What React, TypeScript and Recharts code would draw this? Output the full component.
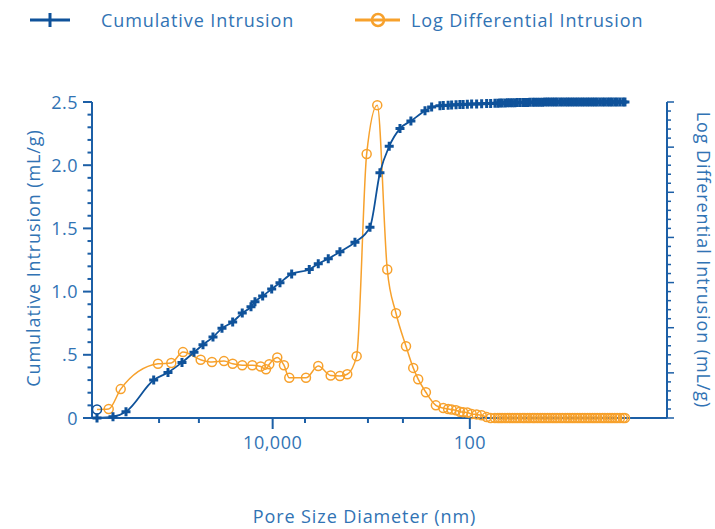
import React from "react";
import { LineChart, Line, XAxis, YAxis } from "recharts";

const BLUE = "#0f529a";
const ORANGE = "#f7a12c";
const AXIS = "#1c5fa6";
const TEXT = "#3173b4";
const FONT = "'Open Sans', 'Noto Sans', sans-serif";

// pore diameters (nm) and cumulative intrusion (mL/g)
const cumHeadDiameters = [605000, 416400, 307400, 160960, 115300, 83100, 62800, 50900, 40300, 32660, 25440, 20340, 16590, 15110, 12630, 10230, 8430, 6415, 4253, 3447, 2729, 2077, 1463, 1030, 816, 657, 511, 396, 285, 244, 201];
const cumHeadValues = [0, 0.01, 0.05, 0.3, 0.36, 0.44, 0.52, 0.58, 0.64, 0.71, 0.76, 0.83, 0.88, 0.92, 0.965, 1.02, 1.07, 1.14, 1.175, 1.22, 1.26, 1.315, 1.39, 1.51, 1.94, 2.15, 2.29, 2.35, 2.43, 2.46, 2.47];

// log differential intrusion (right axis units)
const logHeadDiameters = [605000, 460300, 347800, 145600, 106700, 81200, 53720, 41260, 31180, 25440, 20340, 16090, 13230, 11690, 10820, 8980, 7680, 6785, 4593, 3447, 2580, 2077, 1751, 1406, 1113, 869, 688, 561, 444, 375, 334, 279, 221];
const logHeadValues = [0.19, 0.2, 0.64, 1.2, 1.22, 1.46, 1.29, 1.24, 1.26, 1.2, 1.17, 1.17, 1.14, 1.08, 1.19, 1.34, 1.17, 0.89, 0.89, 1.15, 0.94, 0.93, 0.97, 1.37, 5.85, 6.93, 3.29, 2.32, 1.59, 1.11, 0.86, 0.57, 0.28];

// dense small-pore tail shared by both series
const tailDiameters = [186, 166, 153, 138, 126, 117, 106, 95.9, 85.3, 75.9, 67.5, 61.5, 55.6, 52, 49.5, 47, 44, 41.5, 39.2, 37, 34.9, 33, 31, 29, 27.6, 26, 24.6, 23, 21.9, 20.6, 19.4, 18.3, 17.3, 16.3, 15.4, 14.5, 13.7, 13, 12.2, 11.5, 10.8, 10.2, 9.65, 9.1, 8.59, 8.1, 7.64, 7.2, 6.8, 6.4, 6.05, 5.7, 5.39, 5.1, 4.79, 4.5, 4.26, 4, 3.79, 3.6, 3.38, 3.2, 3, 2.8, 2.67];
const tailCumValues = [2.472, 2.474, 2.476, 2.478, 2.48, 2.481, 2.482, 2.484, 2.485, 2.487, 2.488, 2.489, 2.49, 2.491, 2.492, 2.492, 2.493, 2.494, 2.494, 2.495, 2.495, 2.496, 2.496, 2.497, 2.497, 2.497, 2.498, 2.498, 2.498, 2.499, 2.499, 2.499, 2.5, 2.5, 2.5, 2.5, 2.5, 2.5, 2.5, 2.5, 2.5, 2.5, 2.5, 2.5, 2.5, 2.5, 2.5, 2.5, 2.5, 2.5, 2.5, 2.5, 2.5, 2.5, 2.5, 2.5, 2.5, 2.5, 2.5, 2.5, 2.5, 2.5, 2.5, 2.5, 2.5];
const tailLogValues = [0.22, 0.2, 0.19, 0.17, 0.14, 0.13, 0.12, 0.09, 0.08, 0.06, 0.02, 0, 0, 0, 0, 0, 0, 0, 0, 0, 0, 0, 0, 0, 0, 0, 0, 0, 0, 0, 0, 0, 0, 0, 0, 0, 0, 0, 0, 0, 0, 0, 0, 0, 0, 0, 0, 0, 0, 0, 0, 0, 0, 0, 0, 0, 0, 0, 0, 0, 0, 0, 0, 0, 0];

const xTicks = [142000, 56000, 10000, 4700, 1080, 477, 100];
const xTickLabels: Record<number, string> = { 10000: "10,000", 100: "100" };
const leftTicks = [0, 0.1, 0.2, 0.3, 0.4, 0.5, 0.6, 0.7, 0.8, 0.9, 1, 1.1, 1.2, 1.3, 1.4, 1.5, 1.6, 1.7, 1.8, 1.9, 2, 2.1, 2.2, 2.3, 2.4, 2.5];
const leftTickLabels: Record<string, string> = { "0": "0", "0.5": ".5", "1": "1.0", "1.5": "1.5", "2": "2.0", "2.5": "2.5" };
const rightTicks = [0, 0.2, 0.4, 0.6, 0.8, 1, 1.2, 1.4, 1.6, 1.8, 2, 2.2, 2.4, 2.6, 2.8, 3, 3.2, 3.4, 3.6, 3.8, 4, 4.2, 4.4, 4.6, 4.8, 5, 5.2, 5.4, 5.6, 5.8, 6, 6.2, 6.4, 6.6, 6.8, 7];

const cumData = [...cumHeadDiameters, ...tailDiameters].map((d, i) => ({ d, v: [...cumHeadValues, ...tailCumValues][i] }));
const logData = [...logHeadDiameters, ...tailDiameters].map((d, i) => ({ d, v: [...logHeadValues, ...tailLogValues][i] }));

const labelStyle = { fill: TEXT, fontSize: 18, fontFamily: FONT, letterSpacing: 0.9, style: { letterSpacing: "0.9px" } };

const XTick = (props: any) => {
    const { x, y, payload } = props;
    const label = xTickLabels[payload.value];
    return (
        <g>
            <line x1={x} x2={x} y1={y} y2={y + (label ? 11 : 5)} stroke={AXIS} strokeWidth={2} />
            {label && <text x={x} y={y + 31} textAnchor="middle" fill={TEXT} fontSize={18} fontFamily={FONT} style={{ letterSpacing: "0.5px" }}>{label}</text>}
        </g>
    );
};

const LeftTick = (props: any) => {
    const { x, y, payload } = props;
    const label = leftTickLabels[String(payload.value)];
    return (
        <g>
            <line x1={x} x2={x - (label ? 9 : 4.5)} y1={y} y2={y} stroke={AXIS} strokeWidth={2} />
            {label && <text x={x - 14} y={y + 6.5} textAnchor="end" fill={TEXT} fontSize={18} fontFamily={FONT} style={{ letterSpacing: "0.5px" }}>{label}</text>}
        </g>
    );
};

const RightTick = (props: any) => {
    const { x, y, payload } = props;
    const major = Math.abs(payload.value - Math.round(payload.value)) < 1e-6;
    return <line x1={x} x2={x + (major ? 7 : 4)} y1={y} y2={y} stroke={AXIS} strokeWidth={1.5} />;
};

const PlusDot = (props: any) => {
    const { cx, cy, index } = props;
    if (cx == null || cy == null) return <g key={`p${index}`} />;
    return <path key={`p${index}`} d={`M${cx - 4.5},${cy}H${cx + 4.5}M${cx},${cy - 4.5}V${cy + 4.5}`} stroke={BLUE} strokeWidth={3} fill="none" />;
};

const CircleDot = (props: any) => {
    const { cx, cy, index } = props;
    if (cx == null || cy == null) return <g key={`c${index}`} />;
    return <circle key={`c${index}`} cx={cx} cy={cy} r={4.5} stroke={index === 0 ? BLUE : ORANGE} strokeWidth={1.5} fill="none" />;
};

function LegendOverlay() {
    const txt: React.CSSProperties = { position: "absolute", top: 9, fontSize: 18, lineHeight: "22px", color: TEXT, fontFamily: FONT, whiteSpace: "nowrap", letterSpacing: "0.9px" };
    return (
        <>
            <svg style={{ position: "absolute", left: 28, top: 10 }} width={380} height={20}>
                <line x1={2} x2={42} y1={10} y2={10} stroke={BLUE} strokeWidth={3} />
                <line x1={22} x2={22} y1={3} y2={17} stroke={BLUE} strokeWidth={3} />
                <line x1={327} x2={372} y1={10} y2={10} stroke={ORANGE} strokeWidth={3} />
                <circle cx={350} cy={10} r={6} stroke={ORANGE} strokeWidth={2.5} fill="none" />
            </svg>
            <div style={{ ...txt, left: 101 }}>Cumulative Intrusion</div>
            <div style={{ ...txt, left: 411 }}>Log Differential Intrusion</div>
        </>
    );
}

export default function App() {
    return (
        <div style={{ position: "fixed", left: 0, top: 0, width: 715, height: 529, background: "#fff" }}>
            <LineChart width={715} height={529} margin={{ top: 102, right: 0, bottom: 0, left: 0 }}>
                <XAxis
                    type="number" dataKey="d" scale="log" domain={[1, 680000]} reversed
                    ticks={xTicks} interval={0} tickSize={0} tickMargin={0} tickLine={false} tick={<XTick />}
                    axisLine={{ stroke: AXIS, strokeWidth: 2 }} height={111}
                    label={{ value: "Pore Size Diameter (nm)", position: "center", dx: -15, dy: 43, ...labelStyle }}
                />
                <YAxis
                    yAxisId="left" type="number" domain={[0, 2.5]} ticks={leftTicks} interval={0}
                    tickSize={0} tickMargin={0} tickLine={false} tick={<LeftTick />} width={92}
                    axisLine={{ stroke: AXIS, strokeWidth: 2 }}
                    label={{ value: "Cumulative Intrusion (mL/g)", angle: -90, position: "center", dx: -12, dy: -2, ...labelStyle }}
                />
                <YAxis
                    yAxisId="right" orientation="right" type="number" domain={[0, 7]} ticks={rightTicks} interval={0}
                    tickSize={0} tickMargin={0} tickLine={false} tick={<RightTick />} width={48}
                    axisLine={{ stroke: AXIS, strokeWidth: 2 }}
                    label={{ value: "Log Differential Intrusion (mL/g)", angle: 90, position: "center", dx: 12, ...labelStyle }}
                />
                <Line yAxisId="right" data={logData} dataKey="v" type="monotone" stroke={ORANGE} strokeWidth={1.5} dot={CircleDot} activeDot={false} isAnimationActive={false} />
                <Line yAxisId="left" data={cumData} dataKey="v" type="monotone" stroke={BLUE} strokeWidth={1.8} dot={PlusDot} activeDot={false} isAnimationActive={false} />
            </LineChart>
            <LegendOverlay />
        </div>
    );
}
